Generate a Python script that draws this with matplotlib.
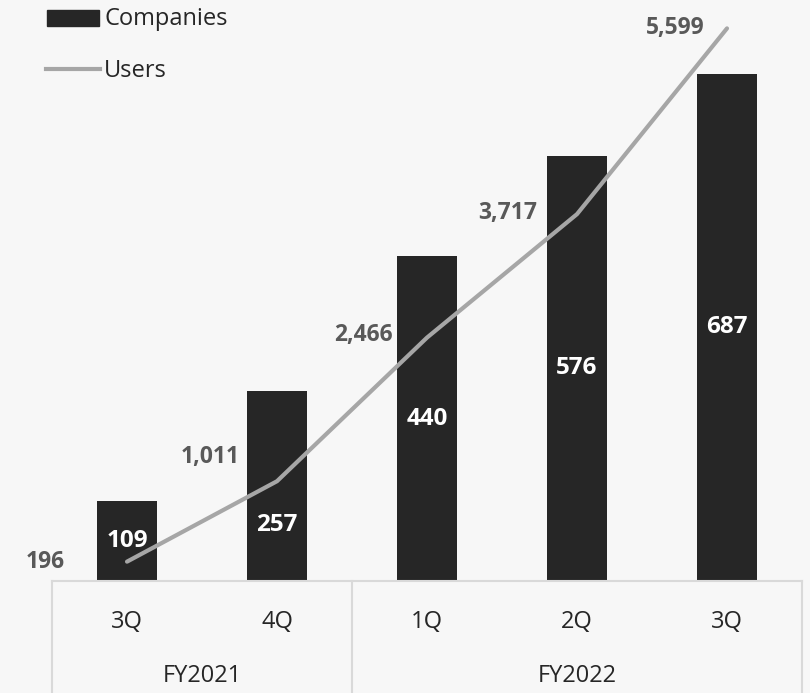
import matplotlib.pyplot as plt
from matplotlib.lines import Line2D

plt.rcParams['font.family'] = ['Open Sans', 'DejaVu Sans']

quarters = ["3Q", "4Q", "1Q", "2Q", "3Q"]
years = ["FY2021", "FY2022"]
year_span = [2, 3]          # quarters per fiscal year
companies = [109, 257, 440, 576, 687]
users = [196, 1011, 2466, 3717, 5599]

bg = "#F7F7F7"
bar_color = "#262626"
line_color = "#A6A6A6"
grid_color = "#D9D9D9"

W, H = 810, 693
fig = plt.figure(figsize=(W / 100, H / 100), dpi=100, facecolor=bg)

# plot area in pixels
left, right, top, base = 52, 802, 20, 581
ax = fig.add_axes([left / W, (H - base) / H, (right - left) / W, (base - top) / H])
ax.set_facecolor(bg)
ax2 = ax.twinx()

x = list(range(len(quarters)))
ax.bar(x, companies, width=0.4, color=bar_color, zorder=2)
ax.set_xlim(-0.5, len(quarters) - 0.5)
ax.set_ylim(0, (base - top) / 0.738)

ax2.plot(x, users, color=line_color, lw=3, solid_capstyle="round", zorder=3)
ax2.set_ylim(0, (base - top) / 0.0987)

for a in (ax, ax2):
    a.axis("off")

# bar labels (white, inside bars); the 4Q one sits lower to clear the line
bar_label_y = [None, 76, None, None, None]
for xi, v, ly in zip(x, companies, bar_label_y):
    ax.text(xi, ly if ly is not None else v / 2, f"{v:,}", color="white",
            fontsize=17.5, fontweight="bold", ha="center", va="center", zorder=4)

# user labels, left of each point
user_offsets = [(-62, 0), (-37, 24), (-34, 3), (-40, 1), (-22, 0)]
for xi, v, (dx, dy) in zip(x, users, user_offsets):
    ax2.annotate(f"{v:,}", (xi, v), xytext=(dx * 0.72, dy * 0.72),
                 textcoords="offset points", color="#595959", fontsize=16.5,
                 fontweight="bold", ha="right", va="center")

# category table under the plot
def fx(px):
    return px / W

def fy(py):
    return (H - py) / H

fig.add_artist(Line2D([fx(left), fx(right)], [fy(base), fy(base)], color=grid_color, lw=1.5))
slot = (right - left) / len(quarters)
edges = [0]
for n in year_span:
    edges.append(edges[-1] + n)
for e in edges:
    xp = left + e * slot
    fig.add_artist(Line2D([fx(xp), fx(xp)], [fy(base), 0], color=grid_color, lw=1.5))

for i, q in enumerate(quarters):
    fig.text(fx(left + (i + 0.5) * slot), fy(622), q, fontsize=17,
             color="#262626", ha="center", va="center")
for yname, a, b in zip(years, edges[:-1], edges[1:]):
    fig.text(fx(left + (a + b) / 2 * slot), fy(676), yname, fontsize=17,
             color="#262626", ha="center", va="center")

# legend
fig.add_artist(plt.Rectangle((fx(47), fy(26)), fx(52), 16 / H, color=bar_color))
fig.text(fx(104), fy(19), "Companies", fontsize=17, color="#262626", va="center")
fig.add_artist(Line2D([fx(46), fx(100)], [fy(69), fy(69)], color=line_color, lw=3))
fig.text(fx(104), fy(71), "Users", fontsize=17, color="#262626", va="center")

fig.savefig("out.png", dpi=100, facecolor=bg)
